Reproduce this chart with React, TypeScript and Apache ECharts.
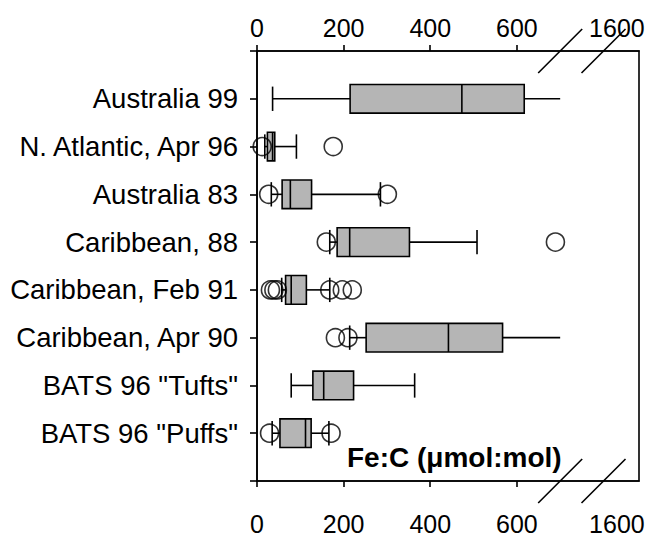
import React, { useEffect, useRef } from 'react';
import * as echarts from 'echarts';

const categories = [
  'Australia 99',
  'N. Atlantic, Apr 96',
  'Australia 83',
  'Caribbean, 88',
  'Caribbean, Feb 91',
  'Caribbean, Apr 90',
  'BATS 96 "Tufts"',
  'BATS 96 "Puffs"',
];
const lowerWhisker = [36, 18, 33, 168, 57, 214, 79, 35];
const quartile1 = [215, 24, 58, 185, 66, 252, 129, 53];
const medians = [473, 36, 77, 214, 79, 442, 154, 112];
const quartile3 = [617, 41, 126, 352, 114, 567, 223, 125];
// 700 = whisker runs on into the axis break
const upperWhisker = [700, 91, 285, 508, 168, 700, 364, 166];

const outlierRows = [2, 2, 3, 3, 4, 4, 5, 5, 5, 5, 5, 5, 6, 6, 8, 8];
const outlierValues = [12, 176, 27, 301, 160, 689, 31, 39, 47, 168, 197, 220, 181, 210, 29, 171];

const tickValues = [0, 200, 400, 600];
const brokenTickLabel = '1600';
const brokenTickPosition = 831;
const axisBreakStart = 700;
const axisBreakEnd = 800;
const axisMax = 882;
const axisTitle = 'Fe:C (\u03bcmol:mol)';

const FONT = '"Liberation Sans", Arial, Helvetica, sans-serif';
const LINE = { color: '#000', width: 1.6 };

export default function App() {
  const ref = useRef<HTMLDivElement>(null);
  useEffect(() => {
    document.body.style.margin = '0';
    const chart = echarts.init(ref.current!, null, { renderer: 'svg' });

    const xAxisCfg = (position: 'top' | 'bottom', margin: number) => ({
      type: 'value',
      position,
      min: 0,
      max: axisMax,
      axisLine: { show: true, onZero: false, lineStyle: LINE },
      axisTick: { show: true, inside: false, length: 6, lineStyle: LINE, customValues: tickValues },
      axisLabel: {
        customValues: [...tickValues, brokenTickPosition],
        formatter: (v: number) => (v === brokenTickPosition ? brokenTickLabel : String(v)),
        fontSize: 25,
        color: '#000',
        fontFamily: FONT,
        margin,
      },
      splitLine: { show: false },
    });

    const boxData = categories.map((_, i) => [
      i + 1,
      lowerWhisker[i],
      quartile1[i],
      medians[i],
      quartile3[i],
      upperWhisker[i],
    ]);

    const stroke = { stroke: '#000', lineWidth: 1.6 };

    chart.setOption({
      animation: false,
      grid: {
        left: 257,
        right: 13,
        top: 51,
        bottom: 47,
        show: true,
        borderColor: '#000',
        borderWidth: 1.6,
        backgroundColor: 'transparent',
      },
      title: {
        text: axisTitle,
        left: 347,
        top: 443,
        padding: 0,
        textStyle: { fontSize: 28, fontWeight: 'bold', fontFamily: FONT, color: '#000' },
      },
      xAxis: [xAxisCfg('bottom', 30), xAxisCfg('top', 11)],
      yAxis: {
        type: 'value',
        min: 0,
        max: 9,
        interval: 1,
        inverse: true,
        axisLine: { show: true, onZero: false, lineStyle: LINE },
        axisTick: { show: true, length: 7, lineStyle: LINE },
        axisLabel: {
          formatter: (v: number) => categories[v - 1] ?? '',
          fontSize: 27.5,
          color: '#000',
          fontFamily: FONT,
          margin: 19,
        },
        splitLine: { show: false },
      },
      series: [
        {
          type: 'custom',
          xAxisIndex: 0,
          yAxisIndex: 0,
          encode: { x: [1, 2, 3, 4, 5], y: 0 },
          data: boxData,
          renderItem: (params: any, api: any) => {
            const y = api.value(0);
            const band = Math.abs(api.size([0, 1])[1]);
            const boxHalf = band * 0.3;
            const capHalf = band * 0.255;
            const pLow = api.coord([api.value(1), y]);
            const pQ1 = api.coord([api.value(2), y]);
            const pMed = api.coord([api.value(3), y]);
            const pQ3 = api.coord([api.value(4), y]);
            const pHigh = api.coord([api.value(5), y]);
            const cy = pLow[1];
            const children: any[] = [
              { type: 'line', shape: { x1: pLow[0], y1: cy, x2: pQ1[0], y2: cy }, style: stroke },
              { type: 'line', shape: { x1: pQ3[0], y1: cy, x2: pHigh[0], y2: cy }, style: stroke },
              {
                type: 'rect',
                shape: { x: pQ1[0], y: cy - boxHalf, width: pQ3[0] - pQ1[0], height: boxHalf * 2 },
                style: { fill: '#b5b5b5', stroke: '#000', lineWidth: 1.6 },
              },
              { type: 'line', shape: { x1: pMed[0], y1: cy - boxHalf, x2: pMed[0], y2: cy + boxHalf }, style: stroke },
              { type: 'line', shape: { x1: pLow[0], y1: cy - capHalf, x2: pLow[0], y2: cy + capHalf }, style: stroke },
            ];
            if (api.value(5) < axisBreakStart) {
              children.push({
                type: 'line',
                shape: { x1: pHigh[0], y1: cy - capHalf, x2: pHigh[0], y2: cy + capHalf },
                style: stroke,
              });
            }
            return { type: 'group', children };
          },
          z: 2,
        },
        {
          type: 'scatter',
          xAxisIndex: 0,
          yAxisIndex: 0,
          symbol: 'circle',
          symbolSize: 18,
          itemStyle: { color: 'transparent', borderColor: '#000', borderWidth: 1.6 },
          data: outlierValues.map((v, i) => [v, outlierRows[i]]),
          z: 3,
        },
      ],
    });

    const yTop = chart.convertToPixel({ yAxisIndex: 0 }, 0) as number;
    const yBottom = chart.convertToPixel({ yAxisIndex: 0 }, 9) as number;
    const breakXs = [axisBreakStart, axisBreakEnd].map(
      (v) => chart.convertToPixel({ xAxisIndex: 0 }, v) as number
    );
    const half = 22;
    const marks: any[] = [];
    [yTop, yBottom].forEach((y) => {
      breakXs.forEach((x) => {
        marks.push({
          type: 'line',
          shape: { x1: x - half, y1: y + half, x2: x + half, y2: y - half },
          style: { stroke: '#000', lineWidth: 1.6 },
          z: 10,
        });
      });
    });
    chart.setOption({ graphic: marks });

    return () => chart.dispose();
  }, []);
  return <div ref={ref} style={{ width: 652, height: 536 }} />;
}
